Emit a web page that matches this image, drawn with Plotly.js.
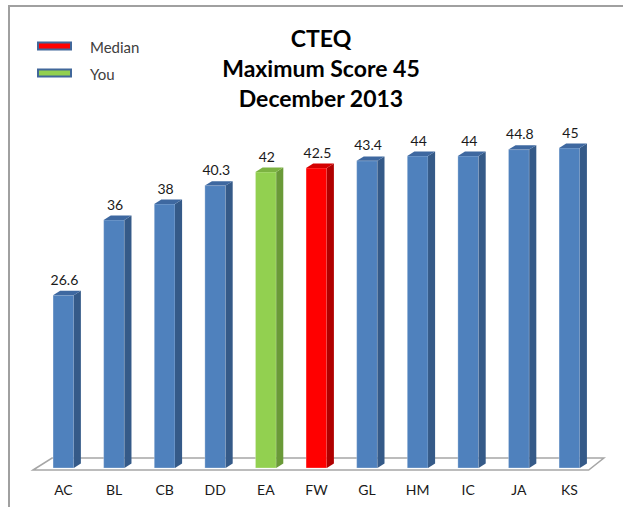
<!DOCTYPE html>
<html>
<head>
<meta charset="utf-8">
<script src="https://cdn.plot.ly/plotly-3.0.1.min.js"></script>
<style>
  html, body { margin: 0; padding: 0; background: #fff; }
  #wrap { position: relative; width: 623px; height: 507px; overflow: hidden; }
  #chart { width: 623px; height: 507px; }
  #frame { position: absolute; left: 8px; top: 5px; right: -5px; bottom: -5px;
           border-top: 2px solid #a0a0a0; border-left: 2px solid #a0a0a0; pointer-events: none; }
</style>
</head>
<body>
<div id="wrap"><div id="chart"></div><div id="frame"></div></div>
<script>
// ---- data ----
const categories = ['AC', 'BL', 'CB', 'DD', 'EA', 'FW', 'GL', 'HM', 'IC', 'JA', 'KS'];
const scores = [26.6, 36, 38, 40.3, 42, 42.5, 43.4, 44, 44, 44.8, 45];
const roles = ['', '', '', '', 'You', 'Median', '', '', '', '', ''];
const legendNames = ['Median', 'You'];
const titleLines = ['CTEQ', 'Maximum Score 45', 'December 2013'];

// ---- styling ----
const W = 623, H = 507;
const M = { l: 28, r: 8, t: 100, b: 31 };
const XR = [-0.7, 10.9], YR = [4, 51];
const BASE = 5, BW = 0.41, DX = 0.14, DY = 0.55;
const palette = {
  '':       { front: '#4f81bd', side: '#355a88', top: '#3e68a0' },
  'You':    { front: '#92d050', side: '#6a9a38', top: '#7cb342' },
  'Median': { front: '#ff0000', side: '#b00000', top: '#d40000' }
};
const FONT = 'Lato, "Open Sans", sans-serif';

const idx = categories.map((c, i) => i);
const traces = [];

// front faces (bars)
traces.push({
  type: 'bar', x: idx, y: scores.map(v => v - BASE), base: BASE, width: BW,
  marker: { color: roles.map(r => palette[r].front), line: { color: 'rgba(255,255,255,0.35)', width: 0.8 } },
  showlegend: false, hoverinfo: 'skip'
});

// side and top faces from data
idx.forEach(i => {
  const v = scores[i], c = i, h = BW / 2, col = palette[roles[i]];
  traces.push({
    type: 'scatter', mode: 'lines', fill: 'toself', fillcolor: col.side,
    line: { width: 0, color: col.side },
    x: [c + h, c + h + DX, c + h + DX, c + h, c + h],
    y: [BASE, BASE + DY, v + DY, v, BASE],
    showlegend: false, hoverinfo: 'skip'
  });
  traces.push({
    type: 'scatter', mode: 'lines', fill: 'toself', fillcolor: col.top,
    line: { width: 0, color: col.top },
    x: [c - h, c - h + DX, c + h + DX, c + h, c - h],
    y: [v, v + DY, v + DY, v, v],
    showlegend: false, hoverinfo: 'skip'
  });
});

// value labels
traces.push({
  type: 'scatter', mode: 'text', x: idx.map(i => i + 0.02), y: scores.map(v => v + 1.75),
  text: scores.map(v => String(v)), textposition: 'middle center',
  textfont: { family: FONT, size: 14, color: '#1a1a1a' },
  showlegend: false, hoverinfo: 'skip', cliponaxis: false
});

// pixel -> paper helpers
const pw = W - M.l - M.r, ph = H - M.t - M.b;
const px = x => (x - M.l) / pw;
const py = y => (H - M.b - y) / ph;

// floor (decoration)
const nL = -0.6, nR = categories.length - 1 + 0.38;
const shapes = [{
  type: 'path', xref: 'x', yref: 'y', layer: 'below',
  path: `M ${nL},4.75 L ${nL + 0.375},6.25 L ${nR + 0.3},6.25 L ${nR},4.75 Z`,
  fillcolor: '#ffffff', line: { color: '#a6a6a6', width: 1.5 }
}];

// legend (drawn manually to match the wide swatches)
const annotations = [];
legendNames.forEach((name, k) => {
  const cy = 46 + k * 27;
  shapes.push({
    type: 'rect', xref: 'paper', yref: 'paper',
    x0: px(38), x1: px(71), y0: py(cy - 3.5), y1: py(cy + 3.5),
    fillcolor: palette[name].front, line: { color: '#41679a', width: 2 }
  });
  annotations.push({
    xref: 'paper', yref: 'paper', x: px(88), y: py(cy + 1), xanchor: 'left', yanchor: 'middle',
    text: name, showarrow: false, font: { family: FONT, size: 15, color: '#404040' }
  });
});

const layout = {
  width: W, height: H, margin: M,
  paper_bgcolor: 'rgba(0,0,0,0)', plot_bgcolor: 'rgba(0,0,0,0)',
  showlegend: false,
  title: {
    text: titleLines.map(t => '<b>' + t + '</b>').join('<br>'),
    x: 321 / W, xanchor: 'center', xref: 'container',
    y: 1 - 47 / H, yanchor: 'middle', yref: 'container',
    font: { family: FONT, size: 23, color: '#000' }
  },
  xaxis: {
    range: XR, tickvals: idx, ticktext: categories, showgrid: false, zeroline: false,
    showline: false, ticks: '', ticklabelstandoff: 4,
    tickfont: { family: FONT, size: 14, color: '#1a1a1a' }
  },
  yaxis: { range: YR, visible: false, showgrid: false, zeroline: false },
  shapes: shapes, annotations: annotations
};

Plotly.newPlot('chart', traces, layout, { displayModeBar: false, staticPlot: true });
</script>
</body>
</html>
